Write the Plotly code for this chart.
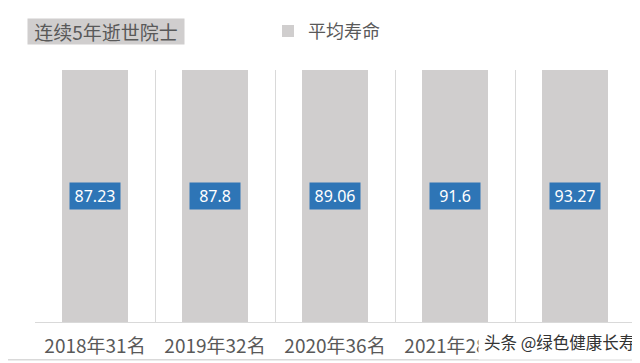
import plotly.graph_objects as go

categories = ["2018年31名", "2019年32名", "2020年36名", "2021年28名", "2022年"]
avg_life = [87.23, 87.8, 89.06, 91.6, 93.27]
title_text = "连续5年逝世院士"
series_name = "平均寿命"
watermark = "头条 @绿色健康长寿"

OFF = 8  # browser body margin
ML, MR, MT, MB = 35 - OFF, 5, 62 - OFF, 41
W, H = 640 - OFF, 363 - OFF
PW, PH = W - ML - MR, H - MT - MB

def px_x(p):
    return (p - OFF - ML) / PW

def px_y(p):
    return (H - MB - (p - OFF)) / PH

grey_text = "#595959"
fig = go.Figure()
fig.add_trace(go.Bar(
    x=categories, y=avg_life, name=series_name,
    marker=dict(color="#d0cece", line=dict(width=0)),
    width=0.55, showlegend=True, hoverinfo="skip",
))

for c, v in zip(categories, avg_life):
    fig.add_annotation(
        x=c, y=0.5, xref="x", yref="paper", text=f"{v:g}",
        showarrow=False, bgcolor="#2e75b6",
        font=dict(family="Noto Sans, Open Sans, sans-serif", size=16, color="white"),
        width=46, height=22, borderpad=2, valign="middle",
    )

fig.add_annotation(
    x=px_x(27), y=px_y(22.5), xref="paper", yref="paper", xanchor="left", yanchor="middle",
    text=title_text, showarrow=False, bgcolor="#d0cece",
    font=dict(family="Noto Sans CJK SC", size=19, color=grey_text),
    width=152, height=21, borderpad=2, valign="middle",
)

fig.add_annotation(
    x=px_x(478), y=px_y(343), xref="paper", yref="paper", xanchor="left", yanchor="middle",
    text=watermark, showarrow=False, bgcolor="white",
    font=dict(family="Noto Sans CJK SC", size=16.5, color="#333333"), borderpad=5,
)

# outer frame (visible right and bottom edges)
fig.add_shape(type="line", xref="paper", yref="paper",
              x0=px_x(637), x1=px_x(637), y0=px_y(361), y1=px_y(8),
              line=dict(color="#d9d9d9", width=1.5), layer="above")
fig.add_shape(type="line", xref="paper", yref="paper",
              x0=px_x(8), x1=px_x(637), y0=px_y(361), y1=px_y(361),
              line=dict(color="#d9d9d9", width=1.5), layer="above")

fig.update_layout(
    width=W, height=H,
    margin=dict(l=ML, r=MR, t=MT, b=MB),
    paper_bgcolor="white", plot_bgcolor="white",
    bargap=0.45,
    legend=dict(orientation="h", x=px_x(268), y=px_y(22), xanchor="left", yanchor="middle",
                font=dict(family="Noto Sans CJK SC", size=18, color=grey_text),
                bgcolor="rgba(0,0,0,0)"),
    xaxis=dict(
        type="category", tickson="boundaries", showgrid=True, gridcolor="#d9d9d9", gridwidth=1,
        showline=True, linecolor="#d9d9d9", linewidth=1, ticks="",
        tickfont=dict(family="Noto Sans CJK SC", size=19, color=grey_text),
        ticklabelstandoff=7,
        range=[-0.5, 4.5],
    ),
    yaxis=dict(visible=False, range=[0, 80], showgrid=False, zeroline=False),
)

fig.write_html("out.html")
